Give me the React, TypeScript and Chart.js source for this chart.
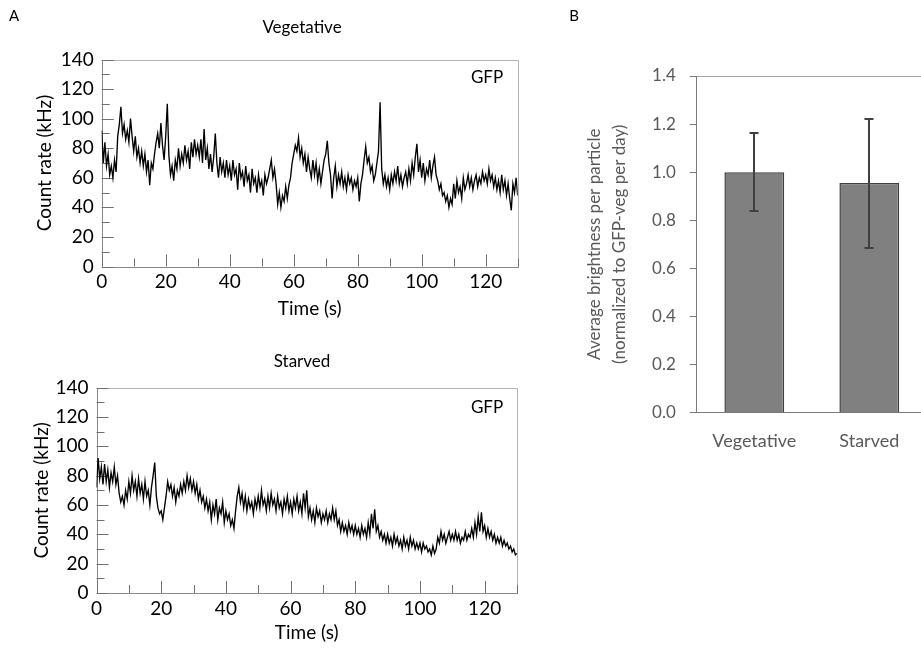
import React, { useEffect, useRef } from "react";
import { Chart, registerables } from "chart.js";

Chart.register(...registerables);

const FONT = "Lato, 'Open Sans', sans-serif";

// ---- Panel A data (count rate in kHz, sampled every 0.5 s from 0 to 130 s) ----
const TIME_STEP_S = 0.5;

const vegetativeCounts = [
  92, 70, 84, 68, 76, 62, 68, 60, 72, 64, 88, 96, 108, 90, 96, 86, 92, 84, 100, 88,
  78, 88, 74, 80, 70, 78, 68, 76, 64, 72, 55, 70, 66, 76, 84, 90, 80, 97, 82, 72,
  88, 110, 75, 62, 68, 58, 72, 66, 80, 68, 76, 70, 82, 72, 78, 66, 84, 74, 86, 76,
  82, 74, 86, 70, 93, 72, 80, 66, 76, 64, 74, 90, 70, 60, 74, 64, 70, 60, 72, 62,
  68, 58, 72, 62, 66, 52, 70, 60, 64, 54, 68, 58, 62, 50, 66, 56, 60, 50, 62, 54,
  58, 48, 62, 56, 60, 66, 72, 60, 66, 56, 42, 50, 40, 48, 44, 54, 46, 55, 60, 70,
  76, 82, 78, 87, 74, 80, 70, 76, 64, 74, 66, 60, 72, 62, 70, 58, 66, 56, 64, 72,
  76, 85, 70, 62, 46, 60, 68, 54, 62, 56, 64, 54, 60, 52, 62, 56, 60, 52, 58, 54,
  60, 44, 56, 62, 72, 81, 70, 74, 64, 68, 58, 62, 70, 78, 111, 66, 56, 62, 54, 60,
  52, 62, 56, 64, 58, 68, 56, 62, 54, 60, 64, 56, 66, 58, 70, 62, 74, 83, 64, 72,
  60, 70, 58, 66, 62, 72, 60, 68, 74, 62, 58, 52, 56, 48, 50, 44, 48, 40, 46, 42,
  56, 46, 58, 50, 54, 46, 60, 52, 56, 62, 54, 60, 52, 58, 62, 54, 60, 56, 64, 58,
  62, 56, 66, 58, 62, 54, 60, 52, 58, 50, 62, 52, 58, 48, 56, 46, 38, 56, 50, 60, 48,
];

const starvedCounts = [
  72, 92, 78, 86, 74, 88, 76, 84, 72, 82, 76, 86, 74, 80, 68, 62, 66, 60, 70, 64,
  76, 68, 80, 70, 76, 66, 78, 68, 74, 64, 76, 66, 70, 60, 72, 80, 89, 66, 58, 54,
  56, 50, 58, 66, 76, 70, 74, 66, 72, 62, 70, 66, 74, 68, 76, 70, 80, 72, 78, 70,
  76, 68, 74, 64, 70, 62, 66, 58, 64, 56, 62, 50, 60, 54, 64, 50, 58, 54, 62, 48,
  56, 50, 54, 46, 50, 44, 56, 66, 72, 62, 68, 58, 66, 56, 64, 58, 62, 54, 64, 58,
  66, 58, 70, 60, 64, 56, 66, 58, 68, 60, 64, 56, 66, 58, 62, 54, 64, 58, 66, 56,
  62, 54, 64, 58, 66, 56, 62, 54, 68, 58, 70, 52, 58, 50, 56, 48, 58, 52, 56, 48,
  54, 50, 56, 48, 54, 50, 58, 50, 56, 46, 50, 42, 48, 42, 46, 40, 48, 42, 46, 40,
  46, 40, 44, 38, 46, 40, 44, 38, 48, 40, 54, 44, 57, 42, 46, 38, 42, 36, 40, 34,
  40, 34, 38, 32, 40, 34, 38, 32, 36, 30, 38, 32, 36, 30, 38, 32, 36, 30, 34, 30,
  34, 28, 34, 30, 32, 28, 30, 26, 32, 27, 30, 38, 34, 42, 36, 40, 34, 38, 42, 36,
  40, 36, 42, 36, 40, 34, 38, 36, 42, 36, 40, 38, 44, 38, 48, 40, 52, 42, 55, 42,
  46, 38, 44, 38, 42, 36, 40, 34, 38, 34, 38, 32, 36, 32, 34, 30, 32, 28, 30, 26, 27,
];

const timeLabeledTicks = [0, 20, 40, 60, 80, 100, 120];
const countLabeledTicks = [0, 20, 40, 60, 80, 100, 120, 140];

// ---- Panel B data ----
const barCategories = ["Vegetative", "Starved"];
const barMeans = [1.0, 0.955];
const barErrLow = [0.84, 0.685];
const barErrHigh = [1.164, 1.221];

type Geo = { w: number; h: number; left: number; right: number; top: number; bottom: number };
type Txt = { text: string; x: number; y: number; size: number };

function TraceChart(props: {
  counts: number[];
  geo: Geo;
  pos: { left: number; top: number };
  texts: Txt[];
  yTitlePad: number;
  xTitlePad: number;
}) {
  const ref = useRef<HTMLCanvasElement>(null);
  useEffect(() => {
    const { counts, geo, texts, yTitlePad, xTitlePad } = props;
    const canvas = ref.current as HTMLCanvasElement;
    const decor = {
      id: "traceDecor",
      beforeDatasetsDraw(chart: any) {
        const { ctx, chartArea: a, scales } = chart;
        const xs = scales.x;
        const ys = scales.y;
        ctx.save();
        ctx.lineWidth = 1;
        // light frame (top and right)
        ctx.strokeStyle = "#b4b4b4";
        ctx.beginPath();
        ctx.moveTo(Math.round(a.left), Math.round(a.top) + 0.5);
        ctx.lineTo(Math.round(a.right) + 0.5, Math.round(a.top) + 0.5);
        ctx.lineTo(Math.round(a.right) + 0.5, Math.round(a.bottom));
        ctx.stroke();
        // axes
        ctx.strokeStyle = "#8a8a8a";
        ctx.beginPath();
        ctx.moveTo(Math.round(a.left) + 0.5, Math.round(a.top));
        ctx.lineTo(Math.round(a.left) + 0.5, Math.round(a.bottom) + 0.5);
        ctx.lineTo(Math.round(a.right) + 1, Math.round(a.bottom) + 0.5);
        ctx.stroke();
        // inner tick marks
        ctx.strokeStyle = "#707070";
        ctx.beginPath();
        xs.ticks.forEach((t: any) => {
          const px = Math.round(xs.getPixelForValue(t.value)) + 0.5;
          const len = t.value % 20 === 0 ? 12 : 8;
          ctx.moveTo(px, a.bottom);
          ctx.lineTo(px, a.bottom - len);
        });
        ys.ticks.forEach((t: any) => {
          const py = Math.round(ys.getPixelForValue(t.value)) + 0.5;
          const len = t.value % 20 === 0 ? 12 : 8;
          ctx.moveTo(a.left, py);
          ctx.lineTo(a.left + len, py);
        });
        ctx.stroke();
        ctx.restore();
      },
      afterDraw(chart: any) {
        const { ctx } = chart;
        ctx.save();
        ctx.fillStyle = "#000";
        ctx.textAlign = "center";
        ctx.textBaseline = "middle";
        texts.forEach((t) => {
          ctx.font = `${t.size}px ${FONT}`;
          ctx.fillText(t.text, t.x, t.y);
        });
        ctx.restore();
      },
    };
    const chart = new Chart(canvas, {
      type: "line",
      data: {
        datasets: [
          {
            data: counts.map((c, i) => ({ x: i * TIME_STEP_S, y: c })),
            borderColor: "#000",
            borderWidth: 1.35,
            pointRadius: 0,
            tension: 0,
          },
        ],
      },
      options: {
        responsive: false,
        animation: false,
        devicePixelRatio: 1,
        events: [],
        layout: { padding: { left: 0, top: geo.top, right: geo.w - geo.right, bottom: 0 } },
        plugins: { legend: { display: false }, tooltip: { enabled: false } },
        scales: {
          x: {
            type: "linear",
            min: 0,
            max: 130,
            afterFit: (s: any) => {
              s.height = geo.h - geo.bottom;
            },
            grid: { display: false, drawTicks: false },
            border: { display: false },
            ticks: {
              stepSize: 10,
              autoSkip: false,
              maxRotation: 0,
              padding: 4,
              color: "#000",
              font: { family: FONT, size: 19 },
              callback: (v: any) => (timeLabeledTicks.includes(Number(v)) ? String(v) : ""),
            },
            title: {
              display: true,
              text: "Time (s)",
              color: "#000",
              font: { family: FONT, size: 19 },
              padding: { top: 0, bottom: xTitlePad },
            },
          },
          y: {
            min: 0,
            max: 140,
            afterFit: (s: any) => {
              s.width = geo.left;
            },
            grid: { display: false, drawTicks: false },
            border: { display: false },
            ticks: {
              stepSize: 10,
              autoSkip: false,
              padding: 8,
              color: "#000",
              font: { family: FONT, size: 19 },
              callback: (v: any) => (countLabeledTicks.includes(Number(v)) ? String(v) : ""),
            },
            title: {
              display: true,
              text: "Count rate (kHz)",
              color: "#000",
              font: { family: FONT, size: 19 },
              padding: { top: yTitlePad, bottom: 0 },
            },
          },
        },
      } as any,
      plugins: [decor],
    });
    return () => chart.destroy();
  }, []);
  return (
    <canvas
      ref={ref}
      width={props.geo.w}
      height={props.geo.h}
      style={{
        position: "absolute",
        left: props.pos.left,
        top: props.pos.top,
        width: props.geo.w,
        height: props.geo.h,
      }}
    />
  );
}

function BarChart(props: { geo: Geo; pos: { left: number; top: number } }) {
  const ref = useRef<HTMLCanvasElement>(null);
  useEffect(() => {
    const { geo } = props;
    const canvas = ref.current as HTMLCanvasElement;
    const extras = {
      id: "barExtras",
      afterDatasetsDraw(chart: any) {
        const { ctx } = chart;
        const ys = chart.scales.y;
        const meta = chart.getDatasetMeta(0);
        ctx.save();
        ctx.strokeStyle = "#404040";
        ctx.lineWidth = 2;
        meta.data.forEach((bar: any, i: number) => {
          const x = Math.round(bar.x);
          const yH = Math.round(ys.getPixelForValue(barErrHigh[i]));
          const yL = Math.round(ys.getPixelForValue(barErrLow[i]));
          ctx.beginPath();
          ctx.moveTo(x, yH);
          ctx.lineTo(x, yL);
          ctx.moveTo(x - 4.5, yH);
          ctx.lineTo(x + 4.5, yH);
          ctx.moveTo(x - 4.5, yL);
          ctx.lineTo(x + 4.5, yL);
          ctx.stroke();
        });
        ctx.restore();
      },
      afterDraw(chart: any) {
        const { ctx } = chart;
        ctx.save();
        ctx.fillStyle = "#000";
        ctx.textAlign = "center";
        ctx.textBaseline = "middle";
        ctx.font = `15px ${FONT}`;
        ctx.fillText("B", 14, 16);
        ctx.restore();
      },
    };
    const chart = new Chart(canvas, {
      type: "bar",
      data: {
        labels: barCategories,
        datasets: [
          {
            data: barMeans,
            backgroundColor: "#808080",
            borderColor: "#404040",
            borderWidth: 1.5,
            barPercentage: 0.52,
            categoryPercentage: 1,
          },
        ],
      },
      options: {
        responsive: false,
        animation: false,
        devicePixelRatio: 1,
        events: [],
        layout: { padding: { left: 0, top: geo.top, right: geo.w - geo.right, bottom: 0 } },
        plugins: { legend: { display: false }, tooltip: { enabled: false } },
        scales: {
          x: {
            afterFit: (s: any) => {
              s.height = geo.h - geo.bottom;
            },
            grid: { display: false, drawTicks: false },
            border: { display: true, color: "#7a7a7a", width: 1 },
            ticks: { padding: 18, color: "#595959", font: { family: FONT, size: 18 } },
          },
          y: {
            min: 0,
            max: 1.4,
            afterFit: (s: any) => {
              s.width = geo.left;
            },
            grid: {
              drawTicks: true,
              tickLength: 7,
              tickColor: "#7a7a7a",
              color: (c: any) =>
                c.scale && c.index === c.scale.ticks.length - 1 ? "#a6a6a6" : "rgba(0,0,0,0)",
            },
            border: { display: true, color: "#7a7a7a", width: 1 },
            ticks: {
              stepSize: 0.2,
              padding: 14,
              color: "#595959",
              font: { family: FONT, size: 17 },
              callback: (v: any) => Number(v).toFixed(1),
            },
            title: {
              display: true,
              text: ["Average brightness per particle", "(normalized to GFP-veg per day)"],
              color: "#595959",
              font: { family: FONT, size: 17, lineHeight: 25 / 17 },
              padding: { top: 22.5, bottom: 0 },
            },
          },
        },
      } as any,
      plugins: [extras],
    });
    return () => chart.destroy();
  }, []);
  return (
    <canvas
      ref={ref}
      width={props.geo.w}
      height={props.geo.h}
      style={{
        position: "absolute",
        left: props.pos.left,
        top: props.pos.top,
        width: props.geo.w,
        height: props.geo.h,
      }}
    />
  );
}

export default function App() {
  return (
    <div
      style={{
        position: "absolute",
        left: 0,
        top: 0,
        width: 921,
        height: 649,
        overflow: "hidden",
        background: "#fff",
      }}
    >
      <TraceChart
        counts={vegetativeCounts}
        geo={{ w: 540, h: 330, left: 101.7, right: 517.7, top: 59.5, bottom: 266.5 }}
        pos={{ left: 0, top: 0 }}
        texts={[
          { text: "A", x: 14, y: 16, size: 15 },
          { text: "Vegetative", x: 302, y: 28, size: 17 },
          { text: "GFP", x: 487, y: 78, size: 17 },
        ]}
        yTitlePad={33.6}
        xTitlePad={9.6}
      />
      <TraceChart
        counts={starvedCounts}
        geo={{ w: 540, h: 319, left: 96.5, right: 517, top: 57.7, bottom: 263 }}
        pos={{ left: 0, top: 330 }}
        texts={[
          { text: "Starved", x: 302, y: 32, size: 17 },
          { text: "GFP", x: 487, y: 78, size: 17 },
        ]}
        yTitlePad={30.6}
        xTitlePad={4.6}
      />
      <BarChart
        geo={{ w: 380, h: 480, left: 136.8, right: 366.8, top: 76, bottom: 412.5 }}
        pos={{ left: 560, top: 0 }}
      />
    </div>
  );
}
